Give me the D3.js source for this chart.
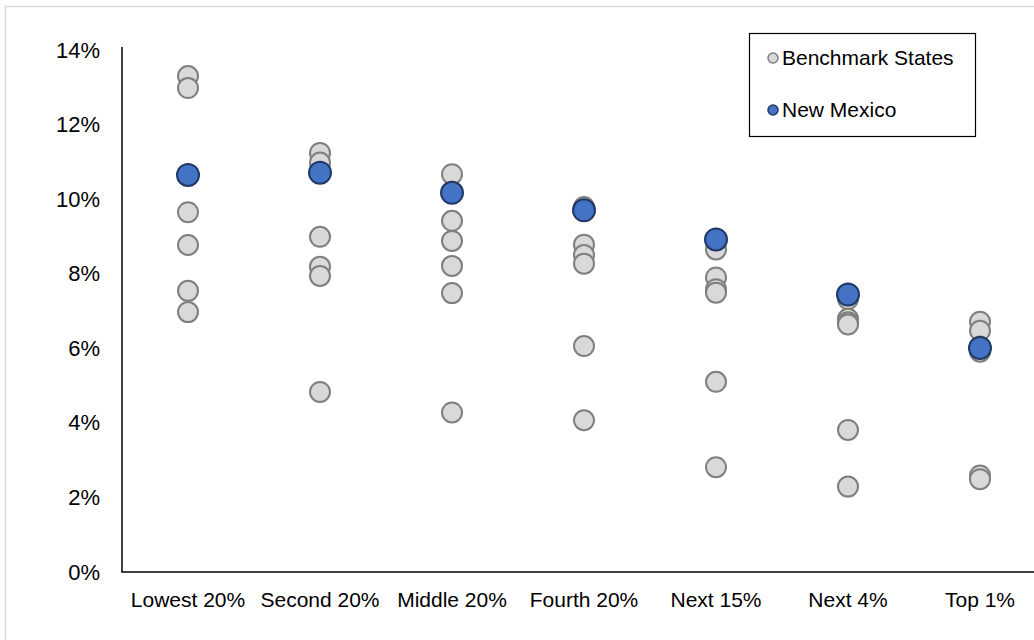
<!DOCTYPE html>
<html>
<head>
<meta charset="utf-8">
<script src="https://cdn.jsdelivr.net/npm/d3@7/dist/d3.min.js"></script>
<style>
  html, body { margin: 0; padding: 0; background: #fff; }
  svg { display: block; font-family: "Liberation Sans", Arial, sans-serif; }
</style>
</head>
<body>
<svg id="chart" width="1034" height="640"></svg>
<script>
// ---- Data ----
const categories = ["Lowest 20%", "Second 20%", "Middle 20%", "Fourth 20%", "Next 15%", "Next 4%", "Top 1%"];
const newMexico = [10.65, 10.71, 10.17, 9.70, 8.92, 7.44, 6.01];
const benchLowest = [13.30, 12.98, 9.65, 8.77, 7.54, 6.97];
const benchSecond = [11.24, 10.98, 8.99, 8.19, 7.94, 4.83];
const benchMiddle = [10.67, 9.42, 8.88, 8.21, 7.48, 4.28];
const benchFourth = [9.79, 8.78, 8.50, 8.27, 6.06, 4.07];
const benchNext15 = [8.65, 7.90, 7.58, 7.49, 5.10, 2.81];
const benchNext4 = [7.32, 6.79, 6.70, 6.64, 3.81, 2.29];
const benchTop1 = [6.71, 6.47, 6.05, 5.91, 2.59, 2.49];
const benchmarks = [benchLowest, benchSecond, benchMiddle, benchFourth, benchNext15, benchNext4, benchTop1];
const yTicks = [0, 2, 4, 6, 8, 10, 12, 14];
const legendLabels = ["Benchmark States", "New Mexico"];

// ---- Drawing ----
const svg = d3.select("#chart");
const FONT = 21;
const TICK_FONT = 22;

// chart area border (extends past the window)
svg.append("rect")
  .attr("x", 5.5).attr("y", 6.5)
  .attr("width", 1100).attr("height", 700)
  .attr("fill", "#fff").attr("stroke", "#d9d9d9").attr("stroke-width", 1.5);

const x = d3.scaleBand().domain(categories).range([122, 1046]).padding(0);
const y = d3.scaleLinear().domain([0, 14]).range([572, 50]);

// Y axis
const yAxis = d3.axisLeft(y).tickValues(yTicks).tickSize(0).tickPadding(22)
  .tickFormat(d => d + "%");
const gy = svg.append("g").attr("transform", "translate(122,0)").call(yAxis);
gy.select(".domain").remove();
gy.selectAll("text").attr("font-size", TICK_FONT).attr("fill", "#000")
  .attr("font-family", "Liberation Sans, Arial, sans-serif");
svg.append("line").attr("x1", 122).attr("x2", 122).attr("y1", 47).attr("y2", 572)
  .attr("stroke", "#000").attr("stroke-width", 1.5);

// X axis
const xAxis = d3.axisBottom(x).tickSize(0).tickPadding(20);
const gx = svg.append("g").attr("transform", "translate(0,572)").call(xAxis);
gx.select(".domain").remove();
gx.selectAll("text").attr("font-size", FONT).attr("fill", "#000")
  .attr("font-family", "Liberation Sans, Arial, sans-serif");
svg.append("line").attr("x1", 121.25).attr("x2", 1046).attr("y1", 572).attr("y2", 572)
  .attr("stroke", "#000").attr("stroke-width", 1.5);

// Benchmark points
const benchPts = [];
categories.forEach((c, i) => benchmarks[i].forEach(v => benchPts.push({ c, v })));
svg.append("g").selectAll("circle").data(benchPts).join("circle")
  .attr("cx", d => x(d.c) + x.bandwidth() / 2)
  .attr("cy", d => y(d.v))
  .attr("r", 10)
  .attr("fill", "#d9d9d9")
  .attr("stroke", "#7f7f7f")
  .attr("stroke-width", 2);

// New Mexico points
svg.append("g").selectAll("circle").data(categories.map((c, i) => ({ c, v: newMexico[i] }))).join("circle")
  .attr("cx", d => x(d.c) + x.bandwidth() / 2)
  .attr("cy", d => y(d.v))
  .attr("r", 11)
  .attr("fill", "#4472c4")
  .attr("stroke", "#1f3864")
  .attr("stroke-width", 2);

// Legend
const lg = svg.append("g");
lg.append("rect").attr("x", 749.5).attr("y", 33.5).attr("width", 226).attr("height", 103)
  .attr("fill", "#fff").attr("stroke", "#000").attr("stroke-width", 1.2);
const legendStyles = [
  { fill: "#d9d9d9", stroke: "#7f7f7f" },
  { fill: "#4472c4", stroke: "#1f3864" }
];
legendLabels.forEach((lab, i) => {
  const cy = 58 + i * 52;
  lg.append("circle").attr("cx", 773).attr("cy", cy).attr("r", 5)
    .attr("fill", legendStyles[i].fill).attr("stroke", legendStyles[i].stroke).attr("stroke-width", 1.5);
  lg.append("text").attr("x", 782).attr("y", cy).attr("dy", "0.35em")
    .attr("font-size", FONT).attr("fill", "#000").text(lab);
});
</script>
</body>
</html>
